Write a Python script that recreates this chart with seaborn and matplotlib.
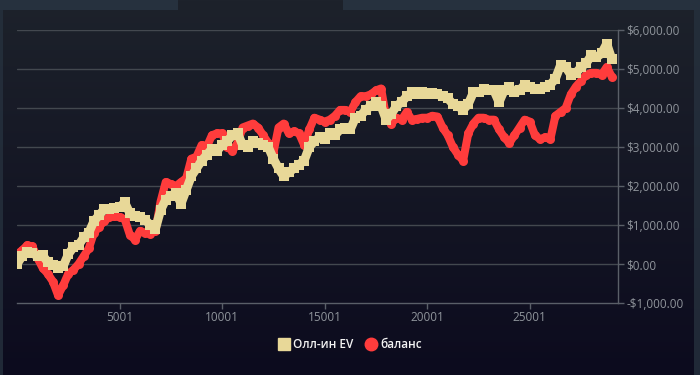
import numpy as np
import pandas as pd
import matplotlib
matplotlib.use("Agg")
import matplotlib.pyplot as plt
from matplotlib.lines import Line2D
from matplotlib.patches import Rectangle
from matplotlib.ticker import FuncFormatter
import seaborn as sns

# ---- data ----
hands = list(range(0, 29001, 250))
ev = [0, 200, 320, 280, 200, 220, 50, -20, -100, -60,
      250, 430, 480, 680, 800, 1100, 1250, 1400, 1420, 1430,
      1450, 1580, 1300, 1220, 1200, 1130, 1000, 900, 1380, 1650,
      1750, 1820, 1550, 1900, 2250, 2450, 2650, 2800, 2950, 2900,
      3050, 3150, 3300, 3350, 3050, 3000, 3150, 3100, 3050, 3000,
      2700, 2450, 2250, 2350, 2450, 2550, 2650, 3000, 3150, 3250,
      3200, 3350, 3300, 3450, 3500, 3450, 3750, 3800, 3950, 4050,
      4150, 4050, 3700, 3850, 4050, 4150, 4300, 4400, 4350, 4400,
      4350, 4380, 4350, 4300, 4250, 4100, 4050, 3950, 4100, 4400,
      4400, 4480, 4450, 4450, 4150, 4450, 4550, 4400, 4450, 4600,
      4550, 4480, 4500, 4550, 4600, 4750, 5100, 5050, 4850, 4900,
      5050, 5150, 5350, 5300, 5400, 5650, 5250]
balance = [250, 350, 480, 450, 150, -100, -250, -450, -800, -550,
           -250, -150, 0, 200, 400, 800, 950, 1100, 1200, 1220,
           1200, 1150, 750, 620, 850, 800, 780, 850, 1600, 2100,
           2050, 2000, 2100, 2200, 2700, 2750, 3050, 3000, 3300, 3350,
           3350, 3000, 2900, 3100, 3500, 3550, 3600, 3500, 3300, 3100,
           2850, 3500, 3600, 3350, 3400, 3350, 3050, 3450, 3750, 3700,
           3650, 3700, 3800, 3950, 3950, 3900, 4150, 4300, 4300, 4350,
           4450, 4500, 3750, 3600, 3750, 3700, 3900, 3700, 3720, 3750,
           3750, 3800, 3780, 3500, 3300, 3000, 2800, 2650, 3350, 3600,
           3750, 3750, 3700, 3700, 3450, 3250, 3100, 3300, 3500, 3700,
           3650, 3300, 3200, 3250, 3200, 3800, 3900, 4000, 4350, 4550,
           4700, 4850, 4900, 4900, 4850, 5050, 4800]
x_ticks = [5001, 10001, 15001, 20001, 25001]
y_ticks = [-1000, 0, 1000, 2000, 3000, 4000, 5000, 6000]
series_names = ["Олл-ин EV", "баланс"]

EV_COLOR = "#e8d898"
BAL_COLOR = "#ff3c3c"

sns.set_theme(style="dark")
plt.rcParams["font.family"] = ["Open Sans", "DejaVu Sans"]

fig = plt.figure(figsize=(7, 3.75), dpi=100)

# background gradient
bg = fig.add_axes([0, 0, 1, 1], zorder=-10)
top = np.array([29, 34, 43]) / 255
bot = np.array([12, 11, 30]) / 255
t = np.linspace(0, 1, 256)[:, None]
grad = (top[None, :] * (1 - t) + bot[None, :] * t)[:, None, :]
bg.imshow(grad, aspect="auto", extent=[0, 1, 0, 1], origin="upper")
bg.set_xlim(0, 1); bg.set_ylim(0, 1)
bg.axis("off")
frame_c = "#26313e"
bg.add_patch(Rectangle((0, 1 - 10 / 375), 178 / 700, 10 / 375, color=frame_c, lw=0))
bg.add_patch(Rectangle((343 / 700, 1 - 10 / 375), 357 / 700, 10 / 375, color=frame_c, lw=0))
bg.add_patch(Rectangle((0, 0), 2.5 / 700, 1, color=frame_c, lw=0, alpha=0.8))
bg.add_patch(Rectangle((694 / 700, 0), 6 / 700, 1, color=frame_c, lw=0, alpha=0.8))

ax = fig.add_axes([17 / 700, (375 - 303) / 375, (618 - 17) / 700, (303 - 30) / 375])
ax.set_facecolor("none")

df = pd.DataFrame({"hand": hands, "ev": ev, "balance": balance})
sns.lineplot(data=df, x="hand", y="balance", ax=ax, color=BAL_COLOR, lw=5.8,
             marker="o", markersize=6.5, markeredgewidth=0, zorder=3)
sns.lineplot(data=df, x="hand", y="ev", ax=ax, color=EV_COLOR, lw=6.4,
             marker="s", markersize=6.5, markeredgewidth=0, zorder=4)

ax.set_xlim(0, 29300)
ax.set_ylim(-1000, 6000)
ax.set_xlabel("")
ax.set_ylabel("")

ax.set_yticks(y_ticks)
ax.yaxis.tick_right()
ax.yaxis.set_major_formatter(FuncFormatter(
    lambda v, p: ("-" if v < 0 else "") + "${:,.2f}".format(abs(v))))
ax.set_xticks(x_ticks)
ax.set_xticklabels([str(v) for v in x_ticks])

grid_c = "#43484f"
ax.grid(False)
for v in y_ticks[1:]:
    ax.axhline(v, color=grid_c, lw=1.0, zorder=1)
for s in ["top", "left"]:
    ax.spines[s].set_visible(False)
ax.spines["bottom"].set_color("#5a5f68")
ax.spines["bottom"].set_linewidth(1.0)
ax.spines["right"].set_color("#5a5f68")
ax.spines["right"].set_linewidth(1.0)

ax.tick_params(axis="y", which="both", right=True, left=False, length=4,
               width=1, color="#5a5f68", labelcolor="#8f949b", labelsize=8.5, pad=2)
ax.tick_params(axis="x", which="both", bottom=True, length=4, width=1,
               color="#5a5f68", labelcolor="#8f949b", labelsize=8.5, pad=2)

handles = [
    Line2D([], [], color=EV_COLOR, marker="s", markersize=9, lw=0),
    Line2D([], [], color=BAL_COLOR, marker="o", markersize=9, lw=0),
]
leg = fig.legend(handles, series_names, loc="center", bbox_to_anchor=(350 / 700, 1 - 345 / 375),
                 ncol=2, frameon=False, fontsize=8.5, handlelength=1.0,
                 handletextpad=0.3, columnspacing=1.0)
for txt in leg.get_texts():
    txt.set_color("#f2f2f2")
    txt.set_fontweight("semibold")

fig.savefig("out.png", dpi=100, facecolor=fig.get_facecolor())
